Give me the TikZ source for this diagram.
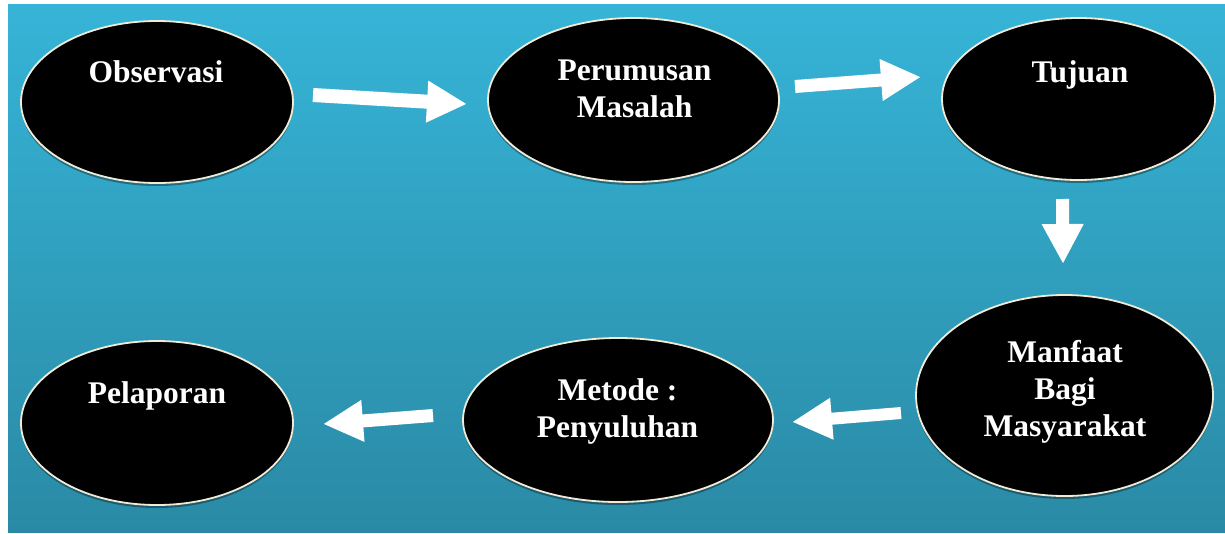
\documentclass[tikz,border=0pt]{standalone}
\usepackage{fontspec}
\setmainfont{Liberation Serif}
\usetikzlibrary{shapes.geometric,arrows.meta,shadows}
\definecolor{bgtop}{RGB}{54,180,215}
\definecolor{bgbot}{RGB}{42,138,165}
\definecolor{rim}{RGB}{240,234,214}
\tikzset{
  oval/.style={ellipse, inner sep=0pt, fill=black, draw=rim, line width=1.8pt,
    drop shadow={shadow xshift=0pt, shadow yshift=-3pt, opacity=0.35, fill=black}},
  lbl/.style={text=white, font=\bfseries\fontsize{31.5}{37}\selectfont, align=center, anchor=base, inner sep=0pt},
  blockarrow/.style={draw=white, line width=14pt, -{Triangle[width=39pt,length=40pt]}}
}
\begin{document}
\begin{tikzpicture}[x=1pt,y=-1pt]
\useasboundingbox (0,0) rectangle (1225,533);
\fill[white] (0,0) rectangle (1225,533);
\shade[top color=bgtop, bottom color=bgbot] (8,4) rectangle (1225,532);
% ovals
\node[oval, minimum width=272pt, minimum height=162pt] (obs) at (157,102) {};
\node[oval, minimum width=291pt, minimum height=164pt] (per) at (633.5,100) {};
\node[oval, minimum width=273pt, minimum height=162pt] (tuj) at (1078.5,99) {};
\node[oval, minimum width=297pt, minimum height=201pt] (man) at (1064.5,395.5) {};
\node[oval, minimum width=310pt, minimum height=164pt] (met) at (618,420) {};
\node[oval, minimum width=272pt, minimum height=164pt] (pel) at (157,423) {};
% texts (base anchor = baseline of last line)
\node[lbl] (tobs) at (156,82) {Observasi};
\node[lbl] (tper) at (634.5,117) {Perumusan\\Masalah};
\node[lbl] (ttuj) at (1080,82) {Tujuan};
\node[lbl] (tman) at (1065,436) {Manfaat\\Bagi\\Masyarakat};
\node[lbl] (tmet) at (617.5,437) {Metode :\\Penyuluhan};
\node[lbl] (tpel) at (157,403) {Pelaporan};
% arrow ends
\coordinate (a1s) at (313,95);   \coordinate (a1e) at (467,104);
\coordinate (a2s) at (795,86.5); \coordinate (a2e) at (921,77);
\coordinate (a3s) at (1062.5,199); \coordinate (a3e) at (1063,264);
\coordinate (a4s) at (901,413);  \coordinate (a4e) at (792,422);
\coordinate (a5s) at (433,415.5); \coordinate (a5e) at (323,424);
\draw[blockarrow] (a1s) -- (a1e);
\draw[blockarrow, line width=13pt] (a2s) -- (a2e);
\draw[blockarrow, line width=13pt] (a3s) -- (a3e);
\draw[blockarrow, line width=12pt] (a4s) -- (a4e);
\draw[blockarrow, line width=13pt] (a5s) -- (a5e);
\end{tikzpicture}
\end{document}
